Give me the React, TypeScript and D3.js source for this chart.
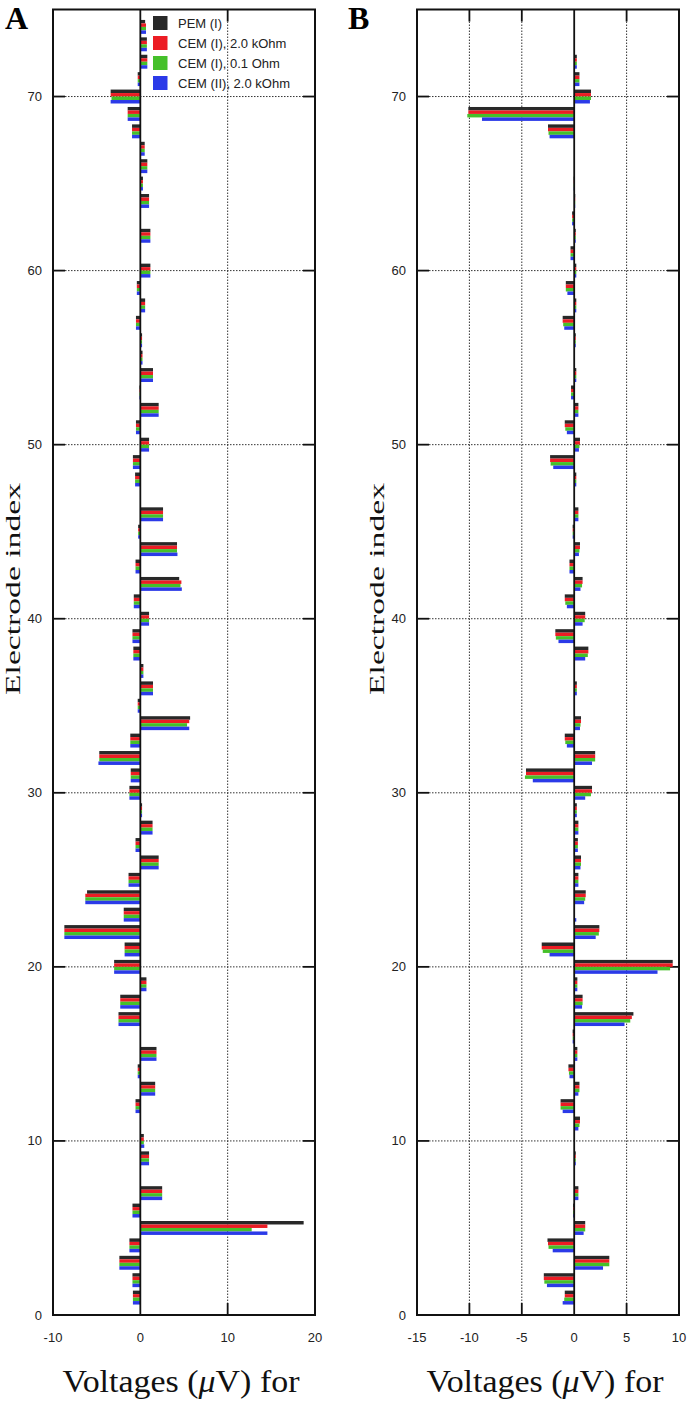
import React from "react";
import * as d3 from "d3";

// Electrode indices 1..74
const electrodes: number[] = d3.range(1, 75);

const seriesNames = ["PEM (I)", "CEM (I), 2.0 kOhm", "CEM (I), 0.1 Ohm", "CEM (II), 2.0 kOhm"];
const seriesColors = ["#282828", "#ec1c24", "#45c02a", "#2b3ae8"];

// Panel A values (µV), index 1..74
const aPEM = [-0.85, -0.9, -2.4, -1.25, 18.7, -0.9, 2.5, 0, 1.0, 0.4, 0, -0.55, 1.7, -0.3, 1.85, 0, -2.5, -2.3, 0.7, -3.0,
  -1.8, -8.7, -1.9, -6.1, -1.35, 2.1, -0.55, 1.4, 0.2, -1.25, -1.1, -4.7, -1.15, 5.7, -0.3, 1.45, 0.35, -0.8, -0.9, 1.0,
  -0.75, 4.45, -0.55, 4.2, -0.25, 2.6, 0, -0.6, -0.85, 1.0, -0.5, 2.1, -0.1, 1.45, 0.25, 0.2, -0.5, 0.55, -0.4, 1.15,
  0.05, 1.15, 0.05, 1.0, 0.3, 0.8, 0.5, -0.95, -1.45, -3.4, -0.3, 0.8, 0.75, 0.55];
const aCEM2k = [-0.85, -0.9, -2.4, -1.25, 14.55, -0.9, 2.5, 0, 1.0, 0.4, 0, -0.55, 1.7, -0.3, 1.85, 0, -2.5, -2.3, 0.7, -3.0,
  -1.8, -8.7, -1.9, -6.3, -1.35, 2.1, -0.55, 1.4, 0.2, -1.25, -1.1, -4.7, -1.15, 5.6, -0.3, 1.45, 0.35, -0.8, -0.9, 1.0,
  -0.75, 4.7, -0.55, 4.2, -0.25, 2.6, 0, -0.6, -0.85, 1.0, -0.5, 2.1, -0.1, 1.45, 0.25, 0.2, -0.5, 0.55, -0.4, 1.15,
  0.05, 1.15, 0.05, 1.0, 0.3, 0.8, 0.5, -0.95, -1.45, -3.4, -0.3, 0.8, 0.75, 0.65];
const aCEM01 = [-0.85, -0.9, -2.4, -1.25, 12.75, -0.9, 2.5, 0, 1.0, 0.4, 0, -0.55, 1.7, -0.3, 1.85, 0, -2.5, -2.3, 0.7, -3.0,
  -1.8, -8.7, -1.9, -6.3, -1.35, 2.1, -0.55, 1.4, 0.2, -1.25, -1.1, -4.7, -1.15, 5.35, -0.3, 1.45, 0.35, -0.8, -0.9, 1.0,
  -0.75, 4.6, -0.55, 4.2, -0.25, 2.6, 0, -0.6, -0.85, 1.0, -0.5, 2.1, -0.1, 1.45, 0.25, 0.2, -0.5, 0.55, -0.4, 1.15,
  0.05, 1.15, 0.05, 1.0, 0.3, 0.8, 0.5, -0.95, -1.45, -3.3, -0.3, 0.8, 0.75, 0.65];
const aCEMII2k = [-0.85, -0.9, -2.4, -1.25, 14.55, -0.9, 2.5, 0, 1.0, 0.45, 0, -0.55, 1.7, -0.3, 1.85, 0, -2.5, -2.3, 0.7, -3.0,
  -1.8, -8.7, -1.9, -6.3, -1.35, 2.1, -0.55, 1.4, 0.2, -1.25, -1.1, -4.8, -1.15, 5.6, -0.3, 1.45, 0.35, -0.8, -0.9, 1.0,
  -0.75, 4.75, -0.55, 4.25, -0.25, 2.6, 0, -0.6, -0.85, 1.0, -0.5, 2.1, -0.1, 1.45, 0.25, 0.2, -0.5, 0.55, -0.4, 1.15,
  0.05, 1.15, 0.05, 1.0, 0.3, 0.8, 0.5, -0.95, -1.45, -3.4, -0.3, 0.8, 0.75, 0.65];

// Panel B values (µV), index 1..74
const bPEM = [-0.9, -2.9, 3.35, -2.55, 1.05, -0.1, 0.4, 0, 0.15, 0, 0.55, -1.3, 0.5, -0.55, 0.3, -0.15, 5.65, 0.8, 0.3, 9.4,
  -3.1, 2.4, 0, 1.1, 0.4, 0.65, 0.35, 0.4, 0.25, 1.7, -4.6, 2.0, -0.9, 0.65, 0, 0.25, 0, 1.35, -1.8, 1.05,
  -0.9, 0.8, -0.45, 0.55, -0.15, 0.4, 0, 0.2, -2.3, 0.55, -0.9, 0.4, -0.3, 0.2, 0, 0.15, -1.1, 0.2, -0.8, 0.2,
  -0.35, 0.15, -0.2, 0.1, -0.05, 0, 0, -2.5, -10.1, 1.6, 0.5, 0.25, 0.05, 0];
const bCEM2k = [-0.9, -2.9, 3.35, -2.5, 1.05, -0.1, 0.4, 0, 0.15, 0, 0.55, -1.3, 0.5, -0.55, 0.3, -0.15, 5.5, 0.8, 0.3, 9.4,
  -3.1, 2.4, 0, 1.1, 0.4, 0.65, 0.35, 0.4, 0.25, 1.7, -4.6, 2.0, -0.9, 0.65, 0, 0.25, 0, 1.35, -1.8, 1.05,
  -0.9, 0.8, -0.45, 0.55, -0.15, 0.4, 0, 0.2, -2.3, 0.55, -0.9, 0.4, -0.3, 0.2, 0, 0.15, -1.1, 0.2, -0.8, 0.2,
  -0.35, 0.15, -0.2, 0.1, -0.05, 0, 0, -2.5, -10.1, 1.6, 0.5, 0.25, 0.05, 0];
const bCEM01 = [-0.95, -2.85, 3.35, -2.45, 1.05, -0.1, 0.4, 0, 0.15, 0, 0.5, -1.3, 0.5, -0.5, 0.3, -0.15, 5.35, 0.8, 0.3, 9.15,
  -3.0, 2.35, 0, 1.05, 0.4, 0.65, 0.35, 0.4, 0.25, 1.6, -4.7, 2.0, -0.85, 0.6, 0, 0.25, 0, 1.3, -1.75, 1.0,
  -0.85, 0.75, -0.45, 0.5, -0.15, 0.4, 0, 0.2, -2.25, 0.5, -0.85, 0.4, -0.3, 0.2, 0, 0.15, -1.05, 0.2, -0.8, 0.2,
  -0.35, 0.15, -0.2, 0.1, -0.05, 0, 0, -2.45, -10.2, 1.6, 0.5, 0.25, 0.05, 0];
const bCEMII2k = [-1.1, -2.6, 2.75, -2.05, 0.9, -0.1, 0.4, 0, 0.15, 0, 0.4, -1.1, 0.4, -0.45, 0.3, -0.15, 4.8, 0.75, 0.3, 7.95,
  -2.35, 2.05, 0.2, 0.95, 0.4, 0.6, 0.35, 0.4, 0.25, 1.05, -3.95, 1.7, -0.7, 0.55, 0, 0.25, 0, 1.05, -1.5, 0.8,
  -0.7, 0.6, -0.45, 0.45, -0.15, 0.4, 0, 0.2, -2.0, 0.45, -0.7, 0.4, -0.3, 0.2, 0, 0.15, -0.95, 0.2, -0.65, 0.2,
  -0.35, 0.15, -0.2, 0.1, -0.05, 0, 0, -2.35, -8.8, 1.5, 0.5, 0.25, 0.05, 0];

const yTicks = [0, 10, 20, 30, 40, 50, 60, 70];
const aXTicks = [-10, 0, 10, 20];
const bXTicks = [-15, -10, -5, 0, 5, 10];

const W = 687;
const H = 1402;
const TOP = 9.5;
const BOTTOM = 1315;
const TICK = 12;

const sansFont = "'Liberation Sans', Arial, Helvetica, sans-serif";
const serifFont = "'Liberation Serif', 'Times New Roman', serif";

interface PanelProps {
  series: number[][];
  xDomain: [number, number];
  xRange: [number, number];
  xTicks: number[];
  label: string;
  labelX: number;
  yLabelX: number;
  xLabelCX: number;
  legend: boolean;
}

function Panel(p: PanelProps) {
  const x = d3.scaleLinear().domain(p.xDomain).range(p.xRange);
  const y = d3.scaleLinear().domain([0, 75]).range([BOTTOM, TOP]);
  const [x0, x1] = p.xRange;
  const bw = y(0) - y(0.2);

  return (
    <g>
      {/* horizontal grid */}
      {yTicks.filter((t) => t > 0).map((t) => (
        <g key={"hy" + t}>
          <line x1={x0 + TICK} x2={x1 - TICK} y1={y(t)} y2={y(t)} stroke="#333" strokeWidth={1} strokeDasharray="1.5,1.5" />
          <line x1={x0} x2={x0 + TICK} y1={y(t)} y2={y(t)} stroke="#111" strokeWidth={1.8} />
          <line x1={x1 - TICK} x2={x1} y1={y(t)} y2={y(t)} stroke="#111" strokeWidth={1.8} />
        </g>
      ))}
      {/* vertical grid */}
      {p.xTicks.filter((t) => t !== 0 && t !== p.xDomain[0] && t !== p.xDomain[1]).map((t) => (
        <g key={"vx" + t}>
          <line x1={x(t)} x2={x(t)} y1={TOP + TICK} y2={BOTTOM - TICK} stroke="#333" strokeWidth={1} strokeDasharray="1.5,1.5" />
          <line x1={x(t)} x2={x(t)} y1={TOP} y2={TOP + TICK} stroke="#111" strokeWidth={1.8} />
          <line x1={x(t)} x2={x(t)} y1={BOTTOM - TICK} y2={BOTTOM} stroke="#111" strokeWidth={1.8} />
        </g>
      ))}
      {/* bars */}
      {p.series.map((vals, s) =>
        electrodes.map((e, k) => {
          const v = vals[k];
          const top = y(e + 0.4 - 0.2 * s);
          return (
            <rect
              key={s + "-" + e}
              x={Math.min(x(0), x(v))}
              y={top}
              width={Math.abs(x(v) - x(0))}
              height={bw}
              fill={seriesColors[s]}
            />
          );
        })
      )}
      {/* zero line */}
      <line x1={x(0)} x2={x(0)} y1={TOP} y2={BOTTOM} stroke="#111" strokeWidth={1.8} />
      {/* frame */}
      <rect x={x0} y={TOP} width={x1 - x0} height={BOTTOM - TOP} fill="none" stroke="#111" strokeWidth={2} />
      {/* y tick labels */}
      {yTicks.map((t) => (
        <text key={"yl" + t} x={x0 - 11} y={y(t)} dy="0.35em" textAnchor="end" fontFamily={sansFont} fontSize={13} fill="#222">
          {t}
        </text>
      ))}
      {/* x tick labels */}
      {p.xTicks.map((t) => (
        <text key={"xl" + t} x={x(t)} y={BOTTOM + 22} dy="0.35em" textAnchor="middle" fontFamily={sansFont} fontSize={13} fill="#222">
          {t}
        </text>
      ))}
      {/* panel label */}
      <text x={p.labelX} y={29} fontFamily={serifFont} fontWeight="bold" fontSize={32} fill="#000">
        {p.label}
      </text>
      {/* y axis title */}
      <text
        transform={`translate(${p.yLabelX},589) rotate(-90)`}
        textAnchor="middle"
        fontFamily={serifFont}
        fontSize={21}
        textLength={212}
        lengthAdjust="spacingAndGlyphs"
        fill="#111"
      >
        Electrode index
      </text>
      {/* x axis title */}
      <text
        x={p.xLabelCX}
        y={1392}
        textAnchor="middle"
        fontFamily={serifFont}
        fontSize={31}
        textLength={237}
        lengthAdjust="spacingAndGlyphs"
        fill="#111"
      >
        Voltages (<tspan fontStyle="italic">μ</tspan>V) for
      </text>
      {p.legend &&
        seriesNames.map((n, i) => (
          <g key={"lg" + i}>
            <rect x={153} y={23 + i * 20 - 7} width={14.5} height={14} fill={seriesColors[i]} />
            <text x={178} y={23 + i * 20} dy="0.35em" fontFamily={sansFont} fontSize={13} fill="#222">
              {n}
            </text>
          </g>
        ))}
    </g>
  );
}

export default function App() {
  return (
    <svg
      width={W}
      height={H}
      viewBox={`0 0 ${W} ${H}`}
      style={{ position: "absolute", left: 0, top: 0, background: "#fff" }}
    >
      <rect width={W} height={H} fill="#fff" />
      <Panel
        series={[aPEM, aCEM2k, aCEM01, aCEMII2k]}
        xDomain={[-10, 20]}
        xRange={[53, 315]}
        xTicks={aXTicks}
        label="A"
        labelX={5}
        yLabelX={20}
        xLabelCX={181}
        legend={true}
      />
      <Panel
        series={[bPEM, bCEM2k, bCEM01, bCEMII2k]}
        xDomain={[-15, 10]}
        xRange={[417, 679]}
        xTicks={bXTicks}
        label="B"
        labelX={348}
        yLabelX={384}
        xLabelCX={545}
        legend={false}
      />
    </svg>
  );
}
